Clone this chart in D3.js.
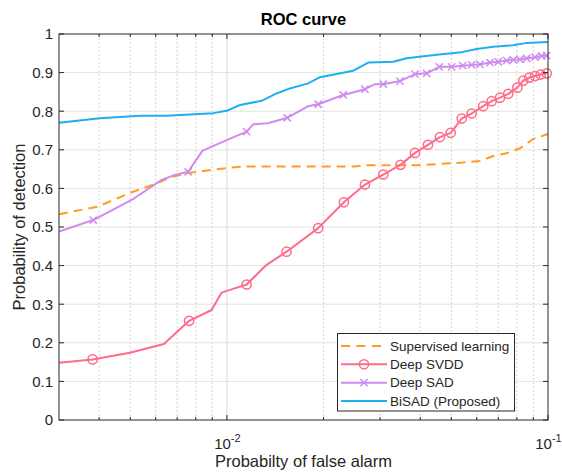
<!DOCTYPE html>
<html>
<head>
<meta charset="utf-8">
<script src="https://cdn.jsdelivr.net/npm/d3@7"></script>
<style>
  body { margin: 0; background: #fff; }
  svg { display: block; font-family: "Liberation Sans", Arial, sans-serif; }
</style>
</head>
<body>
<svg id="chart" width="562" height="472"></svg>
<script>
// values (false alarm rate, detection rate)
const xDomain = [0.003, 0.1];
const yTicks = [0, 0.1, 0.2, 0.3, 0.4, 0.5, 0.6, 0.7, 0.8, 0.9, 1];
const xMajorTicks = [0.01, 0.1];
const xTickLabels = [["10", "-2"], ["10", "-1"]];
const xMinorTicks = [0.004, 0.005, 0.006, 0.007, 0.008, 0.009, 0.02, 0.03, 0.04, 0.05, 0.06, 0.07, 0.08, 0.09];
const seriesNames = ["Supervised learning", "Deep SVDD", "Deep SAD", "BiSAD (Proposed)"];

const supervised = [
    [0.003, 0.533], [0.00397, 0.553], [0.00505, 0.590], [0.00597, 0.611], [0.00673, 0.630],
    [0.00776, 0.641], [0.00896, 0.648], [0.01059, 0.655], [0.01165, 0.657], [0.02505, 0.657],
    [0.02691, 0.660], [0.03899, 0.660], [0.04290, 0.662], [0.05447, 0.667], [0.06138, 0.671],
    [0.06754, 0.684], [0.07435, 0.691], [0.08182, 0.704], [0.09, 0.728], [0.1, 0.741]
];

// Deep SVDD: bends without a marker, then the marked points
const svddLine = [
    [0.003, 0.148], [0.004986, 0.174], [0.006365, 0.197], [0.00896, 0.285], [0.00963, 0.330],
    [0.01022, 0.337], [0.01329, 0.402]
];
const svddMarks = [
    [0.003817, 0.157], [0.007627, 0.257], [0.01152, 0.351], [0.01534, 0.436], [0.01924, 0.497],
    [0.02314, 0.564], [0.02691, 0.610], [0.03069, 0.636], [0.03472, 0.661], [0.03853, 0.692],
    [0.04228, 0.713], [0.04608, 0.733], [0.04979, 0.744], [0.05385, 0.781], [0.05785, 0.794],
    [0.06285, 0.813], [0.06676, 0.826], [0.07087, 0.835], [0.07522, 0.845], [0.08026, 0.861],
    [0.08377, 0.879], [0.08744, 0.887], [0.09110, 0.891], [0.09490, 0.895], [0.0991, 0.898]
];

// Deep SAD
const sadLine = [
    [0.003, 0.488], [0.00505, 0.570], [0.006262, 0.622], [0.00689, 0.635], [0.008401, 0.698],
    [0.00998, 0.725], [0.01207, 0.766], [0.01342, 0.769], [0.01791, 0.813], [0.02891, 0.870]
];
const sadMarks = [
    [0.003834, 0.518], [0.007574, 0.643], [0.01152, 0.747], [0.01541, 0.783], [0.01924, 0.818],
    [0.02303, 0.842], [0.02691, 0.857], [0.03069, 0.870], [0.03459, 0.878], [0.03853, 0.896],
    [0.04189, 0.898], [0.04585, 0.915], [0.05012, 0.915], [0.05425, 0.918], [0.05785, 0.920],
    [0.06140, 0.921], [0.06597, 0.926], [0.07000, 0.928], [0.07434, 0.931], [0.07799, 0.933],
    [0.08182, 0.934], [0.08582, 0.937], [0.09110, 0.940], [0.09559, 0.943], [0.0991, 0.944]
];

// BiSAD
const bisad = [
    [0.003, 0.770], [0.004021, 0.782], [0.005358, 0.788], [0.006489, 0.788], [0.009065, 0.795],
    [0.00998, 0.801], [0.01098, 0.816], [0.01282, 0.827], [0.01428, 0.846], [0.01571, 0.859],
    [0.01791, 0.872], [0.01949, 0.888], [0.02475, 0.905], [0.02755, 0.926], [0.03297, 0.928],
    [0.03628, 0.937], [0.04500, 0.946], [0.05385, 0.953], [0.05996, 0.961], [0.06754, 0.967],
    [0.07799, 0.971], [0.08582, 0.977], [0.1, 0.979]
];

const colors = ["#ff9c1f", "#ff6b8a", "#cf8bf0", "#1caff2"];

const margin = { left: 59, right: 548, top: 34, bottom: 420 };
const svg = d3.select("#chart");
const axisColor = "#262626";

const x = d3.scaleLog().domain(xDomain).range([margin.left, margin.right]);
const y = d3.scaleLinear().domain([0, 1]).range([margin.bottom, margin.top]);

// grid
const grid = svg.append("g");
grid.selectAll(".yg").data(yTicks.slice(1, -1)).join("line")
    .attr("x1", margin.left).attr("x2", margin.right)
    .attr("y1", d => y(d)).attr("y2", d => y(d))
    .attr("stroke", "#e3e3e3").attr("stroke-width", 1);
grid.selectAll(".xm").data(xMinorTicks).join("line")
    .attr("x1", d => x(d)).attr("x2", d => x(d))
    .attr("y1", margin.top).attr("y2", margin.bottom)
    .attr("stroke", "#d4d4d4").attr("stroke-width", 1).attr("stroke-dasharray", "2,2");
grid.selectAll(".xg").data([0.01]).join("line")
    .attr("x1", d => x(d)).attr("x2", d => x(d))
    .attr("y1", margin.top).attr("y2", margin.bottom)
    .attr("stroke", "#dadada").attr("stroke-width", 1);

// curves
svg.append("clipPath").attr("id", "plotClip").append("rect")
    .attr("x", margin.left).attr("y", margin.top - 6)
    .attr("width", margin.right - margin.left + 6).attr("height", margin.bottom - margin.top + 6);

const line = d3.line().x(d => x(d[0])).y(d => y(d[1]));
const byFa = (a, b) => a[0] - b[0];
const curves = [
    supervised,
    svddLine.concat(svddMarks).sort(byFa),
    sadLine.concat(sadMarks).sort(byFa),
    bisad
];
const plot = svg.append("g").attr("clip-path", "url(#plotClip)");

function drawCircle(g, cx, cy, color) {
    g.append("circle").attr("cx", cx).attr("cy", cy).attr("r", 4.6)
        .attr("fill", "none").attr("stroke", color).attr("stroke-width", 1.5);
}
function drawCross(g, cx, cy, color) {
    const s = 3.6;
    g.append("path")
        .attr("d", `M${cx - s},${cy - s}L${cx + s},${cy + s}M${cx - s},${cy + s}L${cx + s},${cy - s}`)
        .attr("stroke", color).attr("stroke-width", 1.5);
}

curves.forEach((pts, i) => {
    plot.append("path").datum(pts).attr("d", line)
        .attr("fill", "none").attr("stroke", colors[i]).attr("stroke-width", 2)
        .attr("stroke-linejoin", "round")
        .attr("stroke-dasharray", i === 0 ? "9,6" : null);
});
svddMarks.forEach(d => drawCircle(plot, x(d[0]), y(d[1]), colors[1]));
sadMarks.forEach(d => drawCross(plot, x(d[0]), y(d[1]), colors[2]));

// axes box and ticks
const axes = svg.append("g").attr("stroke", axisColor).attr("stroke-width", 1).attr("fill", "none");
axes.append("rect").attr("x", margin.left).attr("y", margin.top)
    .attr("width", margin.right - margin.left).attr("height", margin.bottom - margin.top);
yTicks.forEach(t => {
    axes.append("line").attr("x1", margin.left).attr("x2", margin.left + 5).attr("y1", y(t)).attr("y2", y(t));
    axes.append("line").attr("x1", margin.right - 5).attr("x2", margin.right).attr("y1", y(t)).attr("y2", y(t));
});
xMajorTicks.concat(xMinorTicks).forEach(t => {
    const len = xMajorTicks.includes(t) ? 5 : 3;
    axes.append("line").attr("x1", x(t)).attr("x2", x(t)).attr("y1", margin.bottom).attr("y2", margin.bottom - len);
    axes.append("line").attr("x1", x(t)).attr("x2", x(t)).attr("y1", margin.top).attr("y2", margin.top + len);
});

// tick labels via d3 axes, lines hidden
const yAxis = svg.append("g").attr("transform", `translate(${margin.left},0)`)
    .call(d3.axisLeft(y).tickValues(yTicks).tickSize(0).tickPadding(6)
        .tickFormat(d => (d === 0 || d === 1) ? String(d) : d.toFixed(1)));
yAxis.select(".domain").remove();
yAxis.selectAll("text").attr("font-size", 15).attr("fill", axisColor).attr("font-family", null);

const xAxis = svg.append("g").attr("transform", `translate(0,${margin.bottom})`)
    .call(d3.axisBottom(x).tickValues(xMajorTicks).tickSize(0).tickPadding(18).tickFormat(""));
xAxis.select(".domain").remove();
xAxis.selectAll("text").each(function(d, i) {
    const t = d3.select(this).attr("font-size", 15).attr("fill", axisColor).attr("font-family", null);
    t.append("tspan").text(xTickLabels[i][0]);
    t.append("tspan").attr("font-size", 11).attr("dy", -7).text(xTickLabels[i][1]);
});

// title and axis labels
svg.append("text").attr("x", (margin.left + margin.right) / 2).attr("y", 25)
    .attr("text-anchor", "middle").attr("font-weight", "bold").attr("font-size", 16.5)
    .attr("fill", "#000").text("ROC curve");
svg.append("text").attr("x", (margin.left + margin.right) / 2).attr("y", 467)
    .attr("text-anchor", "middle").attr("font-size", 16.5).attr("fill", axisColor)
    .text("Probabilty of false alarm");
svg.append("text")
    .attr("transform", `translate(25,${(margin.top + margin.bottom) / 2}) rotate(-90)`)
    .attr("text-anchor", "middle").attr("font-size", 16.5).attr("fill", axisColor)
    .text("Probability of detection");

// legend
const legend = svg.append("g");
legend.append("rect").attr("x", 337.5).attr("y", 333.5).attr("width", 177).attr("height", 77.5)
    .attr("fill", "#fff").attr("stroke", axisColor).attr("stroke-width", 1);
const rowY = d3.scalePoint().domain(seriesNames).range([346, 401]);
seriesNames.forEach((name, i) => {
    const ry = rowY(name);
    legend.append("line").attr("x1", 341).attr("x2", 387).attr("y1", ry).attr("y2", ry)
        .attr("stroke", colors[i]).attr("stroke-width", 2)
        .attr("stroke-dasharray", i === 0 ? "9,6.5" : null);
    if (i === 1) drawCircle(legend, 364, ry, colors[i]);
    if (i === 2) drawCross(legend, 364, ry, colors[i]);
    legend.append("text").attr("x", 390).attr("y", ry + 4.8)
        .attr("font-size", 13.5).attr("fill", axisColor).text(name);
});
</script>
</body>
</html>
